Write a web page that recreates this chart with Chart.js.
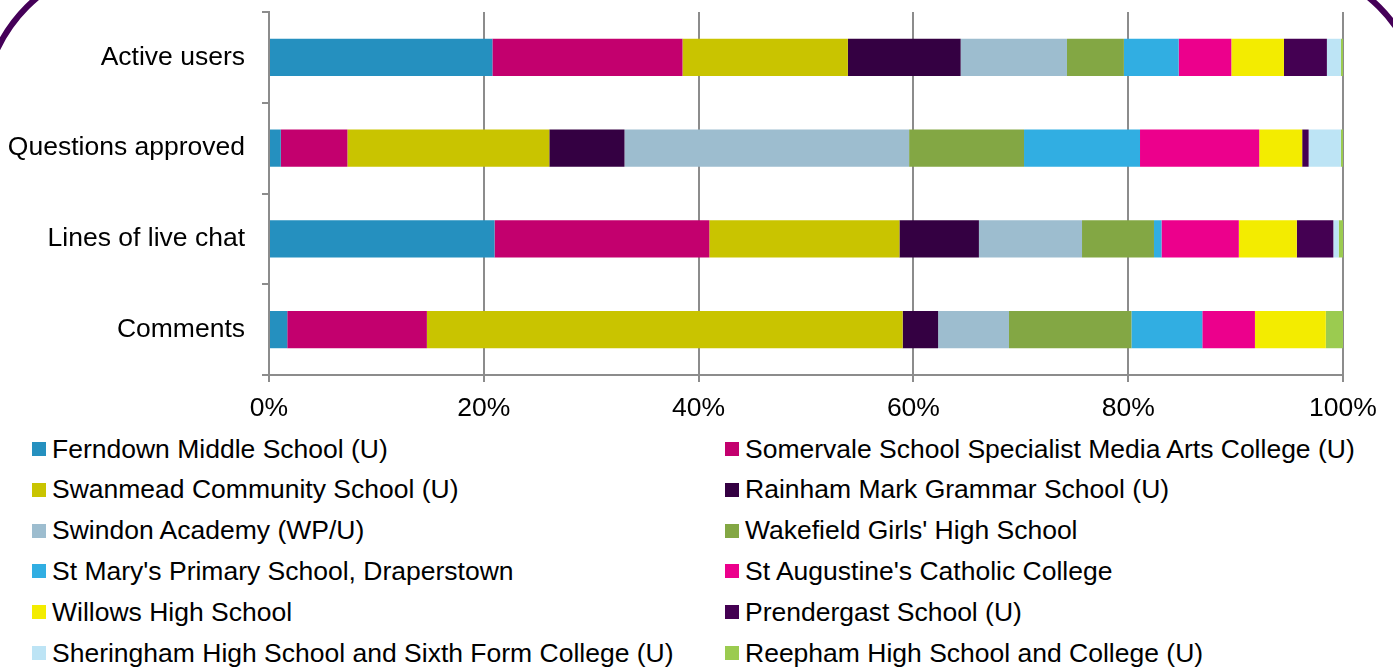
<!DOCTYPE html>
<html>
<head>
<meta charset="utf-8">
<script src="https://cdn.jsdelivr.net/npm/chart.js@4/dist/chart.umd.min.js"></script>
<style>
  html, body { margin: 0; padding: 0; background: #fff; overflow: hidden; }
  body { width: 1393px; height: 670px; position: relative; font-family: "Liberation Sans", Arial, sans-serif; }
  #frame {
    position: absolute; left: -20px; top: -40px; width: 1446px; height: 2000px;
    box-sizing: border-box; border: 6px solid #450058; border-radius: 153px;
    pointer-events: none;
  }
  #wrap { position: absolute; left: 0; top: 0; width: 1393px; height: 430px; }
  .item { position: absolute; display: flex; align-items: center; height: 30px;
          font-size: 26.5px; color: #000; white-space: nowrap; }
  .item span.box { width: 14px; height: 14px; margin-right: 6px; flex: none; }
</style>
</head>
<body>
<div id="frame"></div>
<div id="wrap"><canvas id="chart" width="1393" height="430"></canvas></div>
<div id="legend"></div>
<script>
'use strict';

const categories = ['Active users', 'Questions approved', 'Lines of live chat', 'Comments'];

const schools = [
    'Ferndown Middle School (U)',
    'Somervale School Specialist Media Arts College (U)',
    'Swanmead Community School (U)',
    'Rainham Mark Grammar School (U)',
    'Swindon Academy (WP/U)',
    "Wakefield Girls' High School",
    "St Mary's Primary School, Draperstown",
    "St Augustine's Catholic College",
    'Willows High School',
    'Prendergast School (U)',
    'Sheringham High School and Sixth Form College (U)',
    'Reepham High School and College (U)'
];

const colours = [
    '#2590bf', '#c3006e', '#c9c400', '#340042', '#9dbdcf', '#83a744',
    '#31aee2', '#ec008c', '#f3ec00', '#440052', '#bde4f5', '#9bcb50'
];

// share (%) per category, in the order of categories
const ferndown    = [20.8,  1.1, 21.0,  1.7];
const somervale   = [17.7,  6.2, 20.0, 13.0];
const swanmead    = [15.4, 18.8, 17.7, 44.3];
const rainham     = [10.5,  7.0,  7.4,  3.3];
const swindon     = [ 9.9, 26.5,  9.6,  6.6];
const wakefield   = [ 5.3, 10.7,  6.7, 11.4];
const stMarys     = [ 5.1, 10.8,  0.7,  6.6];
const stAugustine = [ 4.9, 11.1,  7.2,  4.9];
const willows     = [ 4.9,  4.0,  5.4,  6.6];
const prendergast = [ 4.0,  0.6,  3.4,  0.0];
const sheringham  = [ 1.3,  3.0,  0.5,  0.0];
const reepham     = [ 0.2,  0.2,  0.4,  1.6];

const seriesValues = [ferndown, somervale, swanmead, rainham, swindon, wakefield,
    stMarys, stAugustine, willows, prendergast, sheringham, reepham];

const xTicks = [0, 20, 40, 60, 80, 100];

const gridColour = '#8c8c8c';
const font = { family: '"Liberation Sans", Arial, sans-serif', size: 26.5 };

const datasets = schools.map((name, i) => ({
    label: name,
    data: seriesValues[i],
    backgroundColor: colours[i],
    borderWidth: 0,
    categoryPercentage: 1,
    barPercentage: 0.41
}));

new Chart(document.getElementById('chart').getContext('2d'), {
    type: 'bar',
    data: { labels: categories, datasets },
    options: {
        indexAxis: 'y',
        responsive: false,
        animation: false,
        layout: { padding: { top: 12, right: 50, bottom: 0, left: 0 } },
        plugins: { legend: { display: false }, tooltip: { enabled: false } },
        scales: {
            x: {
                stacked: true,
                min: 0,
                max: 100,
                afterBuildTicks: (scale) => { scale.ticks = xTicks.map(v => ({ value: v })); },
                afterFit: (scale) => { scale.height = 55; },
                ticks: { font, color: '#000', padding: 11, maxRotation: 0, callback: (v) => v + '%' },
                grid: { color: gridColour, lineWidth: 2, tickLength: 7 },
                border: { color: gridColour, width: 2 }
            },
            y: {
                stacked: true,
                afterFit: (scale) => {
                    scale.width = 269;
                    scale.paddingTop = 0;
                    scale.paddingBottom = 0;
                },
                ticks: { font, color: '#000', padding: 17 },
                grid: { drawOnChartArea: false, color: gridColour, lineWidth: 2, tickLength: 7, offset: true },
                border: { color: gridColour, width: 2 }
            }
        }
    }
});

// two-column legend, same order as the series
const legend = document.getElementById('legend');
schools.forEach((name, i) => {
    const row = Math.floor(i / 2);
    const col = i % 2;
    const el = document.createElement('div');
    el.className = 'item';
    el.style.left = (col === 0 ? 32 : 725) + 'px';
    el.style.top = (434 + row * 40.8) + 'px';
    const box = document.createElement('span');
    box.className = 'box';
    box.style.background = colours[i];
    el.appendChild(box);
    el.appendChild(document.createTextNode(name));
    legend.appendChild(el);
});
</script>
</body>
</html>
